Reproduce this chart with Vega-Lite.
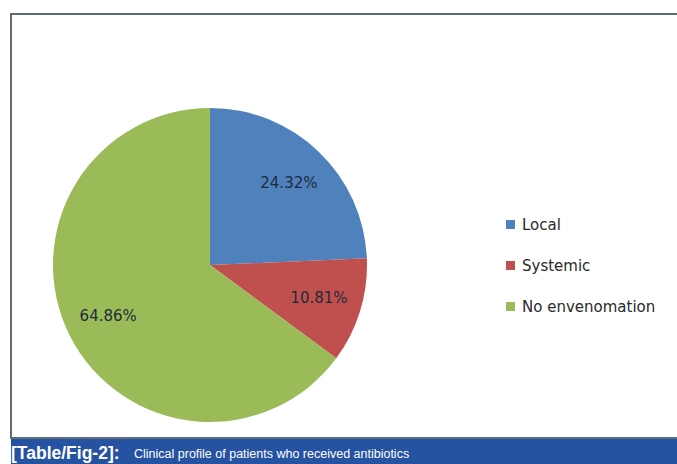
{
  "$schema": "https://vega.github.io/schema/vega-lite/v6.json",
  "background": "white",
  "padding": {"left": 10, "top": 13, "right": 0, "bottom": 0},
  "spacing": 0,
  "vconcat": [
    {
      "width": 667,
      "height": 424,
      "view": {"stroke": "#5f6b75", "strokeWidth": 2},
      "data": {
        "values": [
          {"category": "Local", "percent": 24.32, "label": "24.32%", "n": 1},
          {"category": "Systemic", "percent": 10.81, "label": "10.81%", "n": 2},
          {"category": "No envenomation", "percent": 64.86, "label": "64.86%", "n": 3}
        ]
      },
      "encoding": {
        "theta": {"field": "percent", "type": "quantitative", "stack": true},
        "order": {"field": "n", "type": "quantitative"},
        "color": {
          "field": "category",
          "type": "nominal",
          "sort": ["Local", "Systemic", "No envenomation"],
          "scale": {"domain": ["Local", "Systemic", "No envenomation"], "range": ["#4f81bd", "#c0504d", "#9bbb59"]},
          "legend": {
            "title": null,
            "orient": "none",
            "legendX": 492,
            "legendY": 203,
            "padding": 0,
            "symbolType": "square",
            "symbolSize": 81,
            "symbolStrokeWidth": 0,
            "labelFont": "DejaVu Sans",
            "labelFontSize": 15,
            "labelColor": "#2a2a2a",
            "labelOffset": 4,
            "rowPadding": 25
          }
        }
      },
      "layer": [
        {"mark": {"type": "arc", "outerRadius": 157, "x": 199, "y": 251}},
        {
          "mark": {"type": "text", "radius": 114, "x": 199, "y": 251, "font": "DejaVu Sans", "fontSize": 15},
          "encoding": {
            "text": {"field": "label", "type": "nominal"},
            "color": {"value": "#1e2b3a"}
          }
        }
      ]
    },
    {
      "width": 667,
      "height": 27,
      "view": {"fill": "#2552a1", "stroke": null},
      "data": {"values": [{"a": "[Table/Fig-2]:", "b": "Clinical profile of patients who received antibiotics"}]},
      "layer": [
        {
          "mark": {"type": "text", "align": "left", "baseline": "middle", "x": 0, "y": 15, "font": "Liberation Sans", "fontSize": 17.5, "fontWeight": "bold", "color": "white"},
          "encoding": {"text": {"field": "a", "type": "nominal"}}
        },
        {
          "mark": {"type": "text", "align": "left", "baseline": "middle", "x": 123, "y": 15, "font": "Liberation Sans", "fontSize": 12.5, "color": "white"},
          "encoding": {"text": {"field": "b", "type": "nominal"}}
        }
      ]
    }
  ]
}
